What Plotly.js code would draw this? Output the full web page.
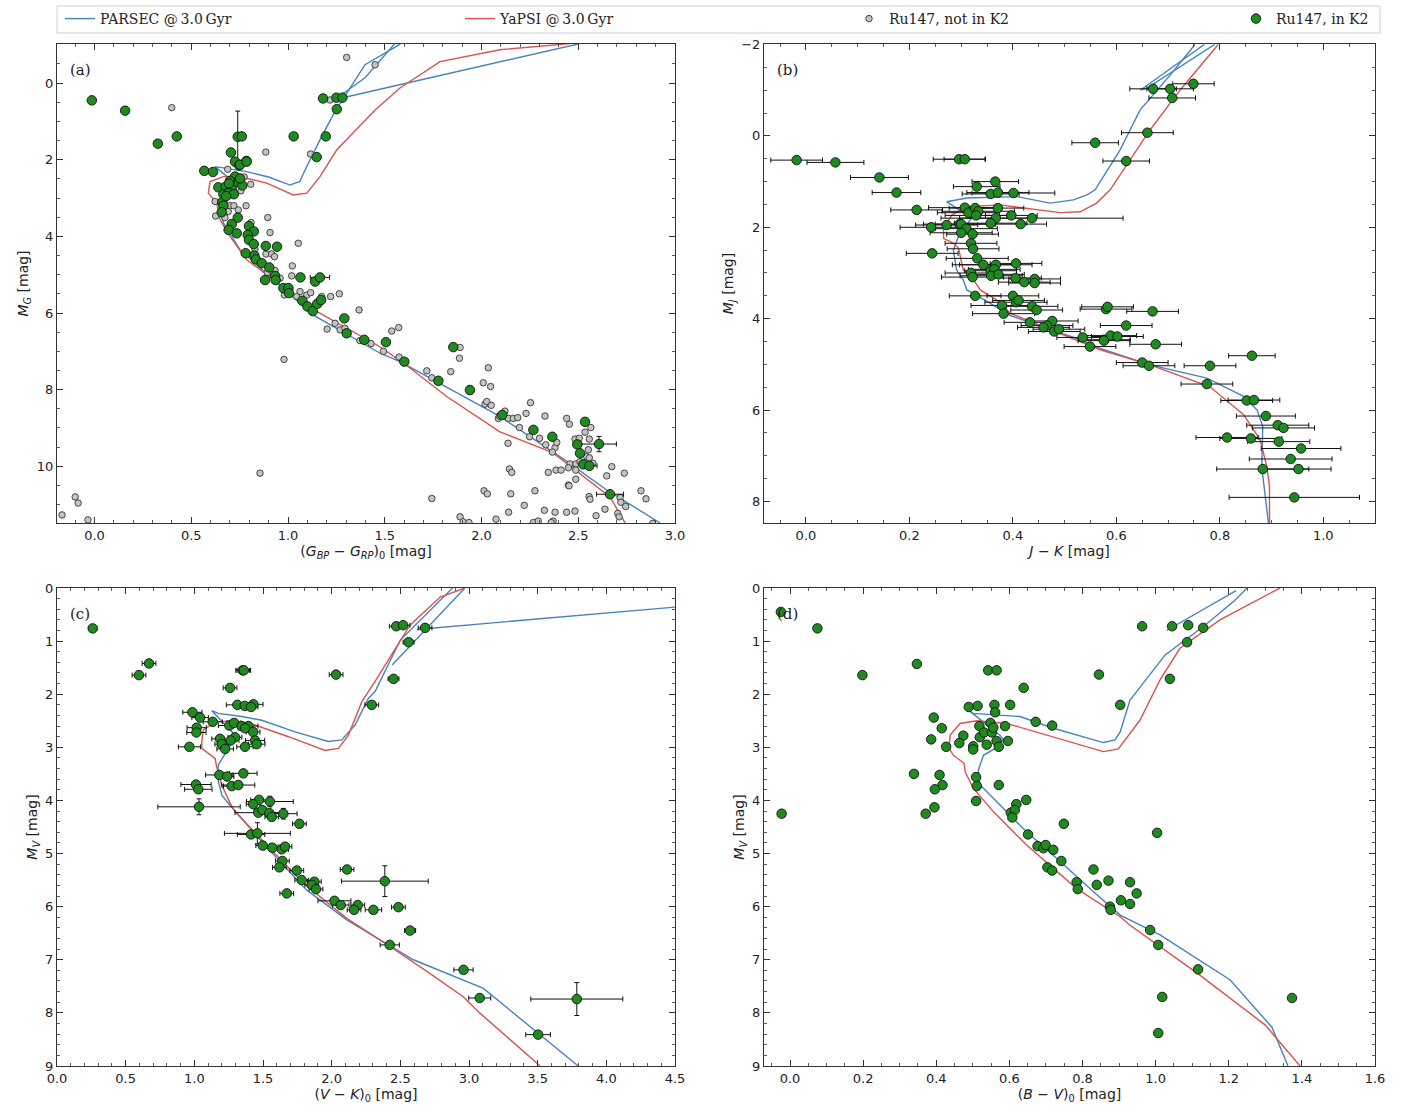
<!DOCTYPE html>
<html><head><meta charset="utf-8">
<script src="https://cdn.plot.ly/plotly-3.0.1.min.js"></script>
<style>html,body{margin:0;padding:0;background:#fff}#g{width:1411px;height:1112px}</style>
</head><body><div id="g"></div>
<script>
// ---------- Panel (a): Gaia CMD ----------
const aParsecX=[2.923,2.647,2.443,2.095,1.579,1.476,1.129,0.752,0.70,0.666,0.652,0.68,0.717,0.717,0.623,0.786,0.9,1.01,1.036,1.06,1.105,1.174,1.243,1.398,1.58,null,1.55,1.398,1.252,1.277,2.499];
const aParsecY=[11.48,10.62,9.88,8.70,7.27,7.05,6.05,4.35,3.92,3.65,3.35,3.0,2.70,2.57,2.18,2.31,2.45,2.66,2.61,2.57,2.09,1.39,0.74,-0.48,-1.02,null,-1.02,-0.14,0.39,0.39,-1.02];
const aYapsiX=[2.742,2.664,2.37,2.095,1.82,1.595,1.475,1.148,0.786,0.70,0.649,0.631,0.588,0.597,0.666,0.752,0.89,1.027,1.097,1.165,1.252,1.398,1.45,1.58,1.786,2.095,2.457];
const aYapsiY=[11.48,10.8,9.65,9.10,8.18,7.30,6.88,5.96,4.61,4.0,3.57,3.13,2.87,2.57,2.44,2.44,2.61,2.92,2.87,2.44,1.74,0.96,0.70,0.12,-0.56,-0.87,-1.03];
const aGrayX=[1.303,1.45,0.399,0.885,1.116,1.217,0.688,0.773,0.807,0.757,0.726,0.623,0.70,0.72,0.783,0.691,0.743,0.626,0.674,0.895,0.809,0.907,1.053,0.80,0.829,0.886,0.915,0.93,1.022,0.933,1.019,0.893,0.959,0.981,1.045,1.062,1.097,1.117,1.174,1.22,1.265,1.367,1.243,1.202,1.269,1.294,1.372,1.429,1.536,1.572,0.979,1.493,1.574,1.717,1.743,1.841,1.889,1.886,2.035,2.009,2.047,2.018,2.027,2.05,2.087,2.092,2.121,2.139,2.164,2.187,2.196,2.23,2.253,2.248,2.30,2.332,2.328,2.38,2.366,2.389,2.385,2.411,2.345,2.137,2.144,2.156,1.743,2.013,2.03,2.151,2.276,2.221,2.14,2.325,2.38,2.44,2.483,1.889,1.905,1.935,2.075,2.268,2.293,2.37,2.36,2.449,2.454,2.44,2.565,2.483,2.505,2.557,2.535,2.552,2.544,2.557,2.575,2.457,2.488,2.509,2.449,2.487,2.487,2.452,2.673,2.647,2.738,2.556,2.561,2.716,2.72,2.745,2.824,2.85,2.638,2.704,2.711,2.592,2.885,-0.168,-0.10,-0.085,-0.034,0.855];
const aGrayY=[-0.67,-0.48,0.64,1.80,1.85,0.44,2.25,2.45,2.64,2.81,2.90,3.09,3.20,3.20,3.20,3.35,3.31,3.47,3.51,3.51,3.64,3.90,4.18,4.10,4.33,4.46,4.46,4.53,4.77,4.89,5.03,4.94,5.09,5.53,5.57,5.44,5.53,5.47,5.57,5.57,5.50,5.92,6.27,6.42,6.44,6.40,6.72,6.80,6.47,6.38,7.21,7.0,7.15,7.51,7.69,7.53,6.90,7.18,7.43,7.82,7.92,8.38,8.31,8.41,8.75,8.69,8.56,8.75,8.75,8.73,8.99,8.62,8.34,9.23,9.27,9.44,8.69,9.51,9.63,9.38,10.10,10.10,10.16,9.40,10.07,10.16,10.84,10.64,10.72,10.72,10.64,11.02,11.20,11.15,11.20,11.20,11.17,11.32,11.45,11.47,11.38,11.47,11.43,11.43,11.47,10.49,8.90,8.75,8.99,9.29,9.27,9.29,9.11,9.57,9.75,9.78,9.92,9.94,9.94,9.88,10.04,10.10,10.34,10.51,10.01,10.25,10.18,10.79,10.86,10.82,10.94,11.05,10.64,10.85,11.12,11.23,11.32,11.29,11.49,11.27,10.8,10.96,11.4,10.18];
const aK2X=[-0.014,0.158,0.327,0.425,0.74,0.761,1.029,1.195,1.181,1.25,1.281,1.252,1.148,0.705,0.726,0.785,0.748,0.567,0.612,0.726,0.64,0.678,0.709,0.74,0.764,0.666,0.691,0.66,0.666,0.657,0.74,0.709,0.693,0.735,0.798,0.823,0.792,0.798,0.823,0.885,0.943,0.781,0.826,0.833,0.864,0.903,0.881,0.933,0.936,1.064,1.14,1.165,0.976,1.002,1.005,1.074,1.10,1.128,1.151,1.171,1.291,1.303,1.394,1.506,1.601,1.777,1.854,1.94,2.107,2.268,2.366,2.535,2.495,2.607,2.509,2.526,2.557,2.664,0.752,0.786,0.752,0.70,0.695,0.72,0.68];
const aK2Y=[0.45,0.72,1.58,1.39,1.40,1.39,1.39,1.39,0.40,0.38,0.38,0.68,1.93,1.81,2.05,2.03,2.15,2.29,2.32,2.44,2.72,2.70,2.76,2.58,2.67,2.90,2.87,3.11,3.20,3.37,3.51,3.68,3.83,3.92,3.73,3.87,3.96,4.09,4.20,4.25,4.27,4.44,4.50,4.60,4.70,4.81,5.14,5.03,5.14,5.07,5.18,5.07,5.35,5.35,5.48,5.68,5.83,5.95,5.76,5.66,6.14,6.53,6.70,6.76,7.27,7.77,6.89,8.01,8.66,9.05,9.23,8.84,9.43,9.42,9.66,9.95,9.99,10.73,2.13,2.05,2.49,2.55,2.62,2.90,2.95];
const aK2Xerr=[0,0,0,0,0,0,0,0,0,0,0,0,0,0,0,0,0,0,0,0,0,0,0,0,0,0,0,0,0,0,0,0,0,0,0,0,0,0,0,0,0,0,0,0,0,0,0,0,0,0,0,0.05,0,0,0,0,0,0,0,0,0,0,0,0,0,0,0,0,0,0,0,0,0,0.09,0,0,0.04,0.07,0,0,0,0,0,0,0];
const aK2Yerr=[0,0,0,0,0.67,0,0,0,0,0,0,0,0,0,0,0,0,0,0,0,0,0,0,0,0,0,0,0,0,0,0,0,0,0,0,0,0,0,0,0,0,0,0,0,0,0,0,0,0,0.1,0,0,0,0,0,0,0,0,0,0,0,0.05,0,0,0,0,0,0.1,0,0,0,0,0,0.2,0,0,0,0,0,0,0,0,0,0,0];

// ---------- Panel (b): J-K ----------
const bParsecX=[0.894,0.881,0.883,0.872,0.846,0.775,0.665,0.569,0.53,0.44,0.395,0.35,0.311,0.304,0.291,0.285,0.295,0.32,0.272,0.311,0.408,0.472,0.517,0.543,0.559,0.607,0.646,0.704,0.752,null,0.79,0.66,0.646,0.77];
const bParsecY=[8.47,7.24,6.36,6.0,5.70,5.30,5.01,4.65,4.46,4.10,3.93,3.62,3.37,3.15,2.93,2.49,2.20,1.80,1.44,1.36,1.33,1.47,1.40,1.29,1.18,0.31,-0.57,-1.33,-2.0,null,-2.0,-1.05,-1.0,-2.0];
const bYapsiX=[0.896,0.896,0.891,0.878,0.846,0.781,0.665,0.569,0.433,0.395,0.369,0.337,0.324,0.304,0.295,0.285,0.266,0.266,0.282,0.311,0.375,0.453,0.491,0.53,0.562,0.588,0.665,0.723,0.797];
const bYapsiY=[8.47,7.67,7.24,6.65,6.10,5.49,5.01,4.68,4.06,3.88,3.59,3.37,3.15,2.93,2.46,2.35,2.24,2.02,1.73,1.55,1.51,1.62,1.68,1.66,1.47,1.18,-0.13,-1.0,-2.0];
const bK2X=[-0.018,0.057,0.142,0.175,0.296,0.307,0.214,0.366,0.33,0.357,0.371,0.401,0.242,0.244,0.307,0.314,0.327,0.333,0.329,0.371,0.367,0.357,0.397,0.437,0.415,0.272,0.297,0.30,0.31,0.30,0.322,0.319,0.323,0.331,0.343,0.367,0.406,0.357,0.364,0.319,0.322,0.358,0.372,0.405,0.422,0.442,0.442,0.327,0.40,0.406,0.411,0.379,0.382,0.437,0.446,0.433,0.476,0.466,0.459,0.48,0.489,0.535,0.549,0.577,0.589,0.602,0.58,0.583,0.619,0.67,0.576,0.676,0.65,0.663,0.781,0.775,0.862,0.852,0.866,0.889,0.912,0.923,0.814,0.86,0.914,0.957,0.937,0.883,0.952,0.944,0.671,0.704,0.749,0.708,0.66,0.559,0.619];
const bK2Y=[0.53,0.58,0.91,1.24,0.51,0.51,1.62,1.0,1.11,1.27,1.24,1.25,2.0,2.57,1.57,1.68,1.58,1.65,1.74,1.58,1.80,1.91,1.74,1.80,1.93,1.95,1.93,1.93,2.03,2.12,2.15,2.35,2.47,2.68,2.82,2.82,2.79,2.95,2.92,3.0,3.09,3.06,3.03,3.11,3.20,3.13,3.22,3.50,3.50,3.64,3.60,3.71,3.89,3.73,3.81,4.08,4.05,4.15,4.19,4.28,4.23,4.41,4.61,4.46,4.37,4.39,3.79,3.74,4.15,3.84,4.48,4.56,4.96,5.03,5.03,5.43,4.81,5.79,5.78,6.13,6.33,6.39,6.60,6.62,6.69,6.84,7.07,7.29,7.29,7.91,-1.03,-1.03,-1.14,-0.83,-0.07,0.15,0.55];
const bK2Xerr=[0.05,0.055,0.056,0.047,0.05,0.04,0.05,0.045,0.045,0.055,0.06,0.08,0.06,0.05,0.07,0.06,0.05,0.07,0.06,0.05,0.07,0.07,0.05,0.176,0.05,0.06,0.07,0.05,0.06,0.06,0.05,0.05,0.05,0.06,0.06,0.07,0.05,0.05,0.05,0.05,0.06,0.06,0.05,0.05,0.05,0.05,0.05,0.05,0.05,0.06,0.05,0.06,0.06,0.05,0.05,0.05,0.05,0.05,0.05,0.05,0.05,0.05,0.05,0.05,0.05,0.05,0.05,0.05,0.05,0.05,0.05,0.05,0.05,0.05,0.05,0.05,0.045,0.05,0.05,0.057,0.06,0.06,0.06,0.06,0.06,0.077,0.08,0.089,0.063,0.126,0.045,0.045,0.04,0.045,0.05,0.045,0.045];

// ---------- Panel (c): V-K ----------
const cParsecX=[3.795,3.105,2.595,2.11,1.819,1.503,1.26,1.20,1.17,1.175,1.248,1.30,1.127,1.175,1.345,1.491,1.733,1.976,2.073,2.17,2.267,2.316,2.50,2.79,2.88,null,2.97,2.44,null,2.62,4.5];
const cParsecY=[9.0,7.54,7.0,6.25,5.69,4.81,4.09,3.90,3.58,3.33,3.02,2.78,2.31,2.36,2.42,2.49,2.71,2.89,2.86,2.58,2.08,1.95,0.98,0.23,0.0,null,0.0,1.45,null,0.78,0.36];
const cYapsiX=[3.518,3.081,2.96,2.717,2.425,2.11,1.794,1.503,1.296,1.26,1.20,1.163,1.151,1.054,1.054,1.066,1.151,1.296,1.442,1.685,1.952,2.049,2.122,2.22,2.316,2.57,2.79,2.97];
const cYapsiY=[9.0,8.01,7.70,7.26,6.75,6.22,5.56,4.78,4.21,4.05,3.71,3.37,3.21,3.02,2.89,2.67,2.52,2.50,2.58,2.80,3.06,3.02,2.77,2.14,1.76,0.70,0.17,0.0];
const cK2X=[0.26,0.67,0.597,1.352,1.36,2.032,1.26,1.313,1.367,1.43,1.413,2.292,0.986,1.042,1.134,1.017,1.015,1.255,1.289,1.345,1.393,1.428,1.369,1.296,1.187,1.265,1.442,1.454,1.369,1.20,1.224,0.964,1.182,1.238,1.357,1.272,1.32,1.012,1.029,1.034,1.471,1.55,1.428,1.466,1.495,1.546,1.564,1.648,1.765,1.413,1.459,1.498,1.568,1.636,1.66,1.641,1.619,1.746,2.112,1.782,1.874,1.855,1.886,1.673,2.387,2.02,2.066,2.19,2.163,2.304,2.486,2.571,2.423,2.96,3.078,3.785,3.503,2.47,2.52,2.68,2.56,2.45];
const cK2Y=[0.76,1.42,1.64,1.55,1.55,1.63,1.88,2.20,2.22,2.19,2.24,2.20,2.34,2.44,2.52,2.63,2.72,2.59,2.54,2.60,2.60,2.71,2.64,2.81,2.84,2.87,2.87,2.94,2.99,2.94,3.03,2.99,3.52,3.55,3.49,3.73,3.71,3.70,3.79,4.12,3.99,4.02,4.07,4.23,4.18,4.24,4.31,4.25,4.44,4.64,4.62,4.85,4.89,4.92,4.87,5.14,5.26,5.32,5.30,5.50,5.53,5.59,5.67,5.75,5.52,5.89,5.97,5.97,6.06,6.06,6.01,6.45,6.72,7.19,7.72,7.74,8.41,0.72,0.70,0.75,1.02,1.71];
const cK2Xerr=[0.03,0.05,0.05,0.05,0.05,0.05,0.05,0.08,0.05,0.07,0.05,0.05,0.07,0.06,0.07,0.07,0.07,0.08,0.05,0.06,0.07,0.05,0.05,0.05,0.06,0.06,0.07,0.06,0.06,0.05,0.06,0.08,0.1,0.05,0.1,0.06,0.12,0.11,0.1,0.3,0.06,0.17,0.05,0.17,0.06,0.08,0.05,0.1,0.05,0.1,0.24,0.05,0.06,0.05,0.05,0.05,0.05,0.05,0.05,0.05,0.05,0.05,0.05,0.05,0.316,0.12,0.06,0.05,0.05,0.06,0.05,0.04,0.07,0.07,0.08,0.335,0.09,0.05,0.05,0.05,0.04,0.04];
const cK2Yerr=[0.02,0.02,0.02,0.02,0.02,0.02,0.02,0.02,0.02,0.02,0.02,0.02,0.02,0.02,0.02,0.02,0.02,0.02,0.02,0.02,0.02,0.02,0.02,0.02,0.02,0.02,0.02,0.02,0.02,0.02,0.02,0.02,0.02,0.02,0.02,0.02,0.02,0.05,0.05,0.15,0.02,0.1,0.02,0.02,0.02,0.02,0.02,0.1,0.02,0.02,0.2,0.02,0.02,0.02,0.02,0.02,0.02,0.02,0.02,0.02,0.02,0.02,0.02,0.02,0.29,0.02,0.02,0.02,0.02,0.02,0.02,0.02,0.02,0.02,0.02,0.31,0.02,0.02,0.02,0.02,0.02,0.02];

// ---------- Panel (d): B-V ----------
const dParsecX=[1.362,1.318,1.204,1.012,0.903,0.83,0.739,0.647,0.556,0.52,0.515,0.529,0.561,0.584,0.574,0.488,0.501,0.629,0.72,0.857,0.889,0.903,0.93,1.026,1.135,1.217,1.25,null,1.03,1.22];
const dParsecY=[9.0,8.27,7.38,6.53,6.16,5.72,5.15,4.59,3.96,3.71,3.43,3.15,3.02,2.86,2.77,2.30,2.36,2.42,2.64,2.91,2.86,2.71,2.11,1.26,0.70,0.23,0.0,null,0.8,0.05];
const dYapsiX=[1.395,1.30,1.121,0.93,0.903,0.784,0.647,0.556,0.501,0.479,0.476,0.447,0.435,0.438,0.465,0.511,0.593,0.72,0.857,0.898,0.957,1.012,1.067,1.176,1.34];
const dYapsiY=[9.0,8.23,7.29,6.35,6.19,5.66,4.84,4.21,3.77,3.46,3.30,3.15,3.02,2.77,2.55,2.50,2.55,2.80,3.08,3.03,2.49,1.73,1.13,0.60,0.0];
const dK2X=[0.075,-0.023,0.347,0.198,0.542,0.565,0.845,0.639,0.489,0.513,0.559,0.561,0.602,0.903,0.393,0.415,0.386,0.427,0.474,0.463,0.501,0.501,0.518,0.519,0.531,0.548,0.552,0.556,0.588,0.538,0.565,0.571,0.596,0.672,0.717,0.339,0.409,0.417,0.396,0.395,0.371,0.509,0.511,0.571,0.509,0.646,0.619,0.604,0.615,0.608,0.749,0.651,0.677,0.693,0.699,0.72,0.742,0.704,0.717,0.83,0.784,0.787,0.839,0.871,0.875,0.877,-0.025,0.963,1.045,1.089,1.13,1.086,1.039,1.004,0.93,0.948,0.93,0.905,0.985,1.007,1.116,1.018,1.373,1.007];
const dK2Y=[0.76,4.25,1.43,1.64,1.55,1.55,1.63,1.88,2.24,2.22,2.20,2.34,2.20,2.20,2.44,2.64,2.85,2.99,2.78,2.92,2.98,3.04,2.60,2.81,2.72,2.54,2.72,2.63,2.60,2.95,2.88,2.99,2.88,2.52,2.59,3.50,3.52,3.71,3.79,4.13,4.25,3.56,3.73,3.71,4.01,3.99,4.07,4.23,4.18,4.32,4.44,4.64,4.86,4.90,4.84,4.93,5.14,5.26,5.32,5.30,5.54,5.67,5.59,5.51,6.00,6.06,0.45,0.72,0.72,0.70,0.75,1.02,1.71,4.61,5.54,5.75,5.95,5.88,6.44,6.72,7.18,7.70,7.72,8.38];

// ---------- styling ----------
const BLUE='#4683bd', RED='#d9534f', GREEN='#1f8a1f', GRAY='#c4c4c4';
const traces=[];
const panels=[
 {xa:'x',ya:'y',px:aParsecX,py:aParsecY,yx:aYapsiX,yy:aYapsiY,gx:aGrayX,gy:aGrayY,kx:aK2X,ky:aK2Y,kxe:aK2Xerr,kye:aK2Yerr,leg:true},
 {xa:'x2',ya:'y2',px:bParsecX,py:bParsecY,yx:bYapsiX,yy:bYapsiY,kx:bK2X,ky:bK2Y,kxe:bK2Xerr,kye:null},
 {xa:'x3',ya:'y3',px:cParsecX,py:cParsecY,yx:cYapsiX,yy:cYapsiY,kx:cK2X,ky:cK2Y,kxe:cK2Xerr,kye:cK2Yerr},
 {xa:'x4',ya:'y4',px:dParsecX,py:dParsecY,yx:dYapsiX,yy:dYapsiY,kx:dK2X,ky:dK2Y,kxe:null,kye:null}
];
panels.forEach(p=>{
  traces.push({type:'scatter',mode:'lines',x:p.px,y:p.py,xaxis:p.xa,yaxis:p.ya,line:{color:BLUE,width:1.4},name:'PARSEC @\u20093.0\u2009Gyr',showlegend:!!p.leg,legend:'legend',hoverinfo:'skip'});
  traces.push({type:'scatter',mode:'lines',x:p.yx,y:p.yy,xaxis:p.xa,yaxis:p.ya,line:{color:RED,width:1.4},name:'YaPSI @\u20093.0\u2009Gyr',showlegend:!!p.leg,legend:'legend2',hoverinfo:'skip'});
  if(p.gx){
    traces.push({type:'scatter',mode:'markers',x:p.gx,y:p.gy,xaxis:p.xa,yaxis:p.ya,marker:{color:GRAY,size:6.5,line:{color:'#222',width:0.8}},name:'Ru147, not in K2',showlegend:true,legend:'legend3'});
  }
  const t={type:'scatter',mode:'markers',x:p.kx,y:p.ky,xaxis:p.xa,yaxis:p.ya,marker:{color:GREEN,size:9.5,line:{color:'#111',width:0.9}},name:'Ru147, in K2',showlegend:!!p.leg,legend:'legend4'};
  if(p.kxe) t.error_x={type:'data',array:p.kxe,visible:true,color:'#111',thickness:1,width:2.5};
  if(p.kye) t.error_y={type:'data',array:p.kye,visible:true,color:'#111',thickness:1,width:2.5};
  traces.push(t);
});

const tickFont={family:'DejaVu Sans',size:13,color:'#222'};
const titleFont={family:'DejaVu Sans',size:14,color:'#222'};
function ax(domain,range,dtick,minor,fmt,anchor,title){
  return {domain:domain,range:range,dtick:dtick,tick0:0,tickformat:fmt,anchor:anchor,
    showline:true,linecolor:'#333',linewidth:1.1,mirror:'allticks',ticks:'inside',ticklen:6,tickwidth:1,tickcolor:'#333',
    minor:{ticks:'inside',ticklen:3,dtick:minor,tick0:0,tickcolor:'#333',tickwidth:0.8,showgrid:false},
    showgrid:false,zeroline:false,tickfont:tickFont,automargin:false,
    title:{text:title,font:titleFont,standoff:4}};
}
const XA=[0.0404,0.4784], XB=[0.5415,0.9745], YT=[0.5297,0.9604], YB=[0.0414,0.4712];
const W=1411,H=1112;
function leg(px){return {orientation:'h',x:px/W,y:1-19/H,xanchor:'left',yanchor:'middle',bgcolor:'rgba(0,0,0,0)',borderwidth:0,
    font:{family:'DejaVu Serif',size:14,color:'#222'},itemwidth:30};}
const layout={
  width:W,height:H,margin:{l:0,r:0,t:0,b:0,autoexpand:false},
  paper_bgcolor:'#fff',plot_bgcolor:'#fff',
  xaxis: ax(XA,[-0.194,3.0],0.5,0.1,'.1f','y','(<i>G</i><sub><i>BP</i></sub> \u2212 <i>G</i><sub><i>RP</i></sub>)<sub>0</sub> [mag]'),
  yaxis: ax(YT,[11.48,-1.02],2,0.5,'d','x','<i>M</i><sub><i>G</i></sub> [mag]'),
  xaxis2:ax(XB,[-0.081,1.1],0.2,0.05,'.1f','y2','<i>J</i> \u2212 <i>K</i> [mag]'),
  yaxis2:ax(YT,[8.47,-2.01],2,0.5,'d','x2','<i>M</i><sub><i>J</i></sub> [mag]'),
  xaxis3:ax(XA,[0,4.5],0.5,0.1,'.1f','y3','(<i>V</i> \u2212 <i>K</i>)<sub>0</sub> [mag]'),
  yaxis3:ax(YB,[9,0],1,0.2,'d','x3','<i>M</i><sub><i>V</i></sub> [mag]'),
  xaxis4:ax(XB,[-0.071,1.6],0.2,0.05,'.1f','y4','(<i>B</i> \u2212 <i>V</i>)<sub>0</sub> [mag]'),
  yaxis4:ax(YB,[9,0],1,0.2,'d','x4','<i>M</i><sub><i>V</i></sub> [mag]'),
  showlegend:true,
  legend:leg(60), legend2:leg(460), legend3:leg(849), legend4:leg(1236),
  shapes:[{type:'rect',xref:'paper',yref:'paper',x0:57/W,x1:1380/W,y0:1-33/H,y1:1-6/H,line:{color:'#d0d0d0',width:1},fillcolor:'rgba(0,0,0,0)',layer:'below'}],
  annotations:[['(a)','x domain','y domain'],['(b)','x2 domain','y2 domain'],['(c)','x3 domain','y3 domain'],['(d)','x4 domain','y4 domain']].map(a=>({
    text:a[0],xref:a[1],yref:a[2],x:0.018,y:0.946,xanchor:'left',yanchor:'middle',showarrow:false,font:{family:'DejaVu Serif',size:15,color:'#222'}}))
};
Plotly.newPlot('g',traces,layout,{staticPlot:true});
</script></body></html>
